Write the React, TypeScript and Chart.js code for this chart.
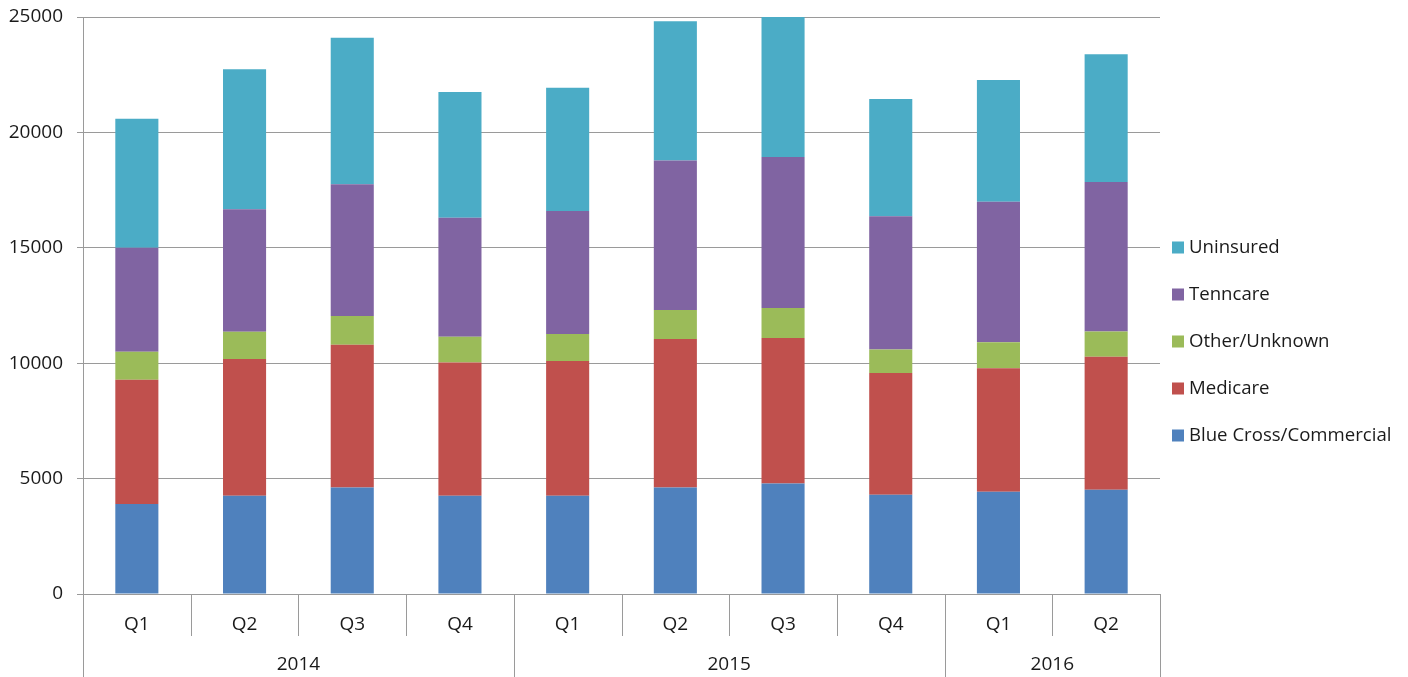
import { useEffect, useRef } from "react";
import { Chart, registerables } from "chart.js";

Chart.register(...registerables);

const quarters = ["Q1", "Q2", "Q3", "Q4", "Q1", "Q2", "Q3", "Q4", "Q1", "Q2"];
const years = ["2014", "2015", "2016"];
const yearSpans = [4, 4, 2];

const blueCross = [3900, 4255, 4615, 4255, 4255, 4615, 4790, 4300, 4430, 4515];
const medicare = [5380, 5930, 6180, 5770, 5845, 6435, 6305, 5270, 5355, 5760];
const otherUnknown = [1220, 1180, 1255, 1125, 1170, 1255, 1300, 1020, 1125, 1095];
const tenncare = [4500, 5300, 5700, 5150, 5325, 6480, 6535, 5775, 6085, 6480];
const uninsured = [5590, 6070, 6350, 5455, 5340, 6030, 6070, 5080, 5270, 5540];

const yTicks = [0, 5000, 10000, 15000, 20000, 25000];

const FONT = "'Open Sans', 'DejaVu Sans', sans-serif";
const TEXT = "#1a1a1a";
const GRID = "#9a9a9a";

const groupAxisPlugin = {
  id: "groupAxis",
  afterDraw(chart: any) {
    const xs = chart.scales.x;
    const ctx = chart.ctx;
    const n = quarters.length;
    const boundary = (i: number) =>
      i === 0 ? xs.left : i === n ? xs.right : (xs.getPixelForValue(i - 1) + xs.getPixelForValue(i)) / 2;
    const yearBounds = [0];
    yearSpans.forEach((s) => yearBounds.push(yearBounds[yearBounds.length - 1] + s));
    ctx.save();
    ctx.strokeStyle = GRID;
    ctx.lineWidth = 1;
    for (let i = 0; i <= n; i++) {
      const x = Math.round(boundary(i)) + 0.5;
      const isYear = yearBounds.includes(i);
      ctx.beginPath();
      ctx.moveTo(x, xs.top);
      ctx.lineTo(x, isYear ? chart.height : xs.top + 42);
      ctx.stroke();
    }
    ctx.fillStyle = TEXT;
    ctx.font = `19px ${FONT}`;
    ctx.textAlign = "center";
    ctx.textBaseline = "middle";
    years.forEach((yr, k) => {
      const cx = (boundary(yearBounds[k]) + boundary(yearBounds[k + 1])) / 2;
      ctx.fillText(yr, cx, xs.top + 71);
    });
    // legend
    const items = chart.data.datasets.map((d: any) => ({ label: d.label, color: d.backgroundColor })).reverse();
    const x0 = chart.chartArea.right + 12;
    const cy = chart.height / 2 + 3;
    ctx.font = `18.6px ${FONT}`;
    ctx.textAlign = "left";
    items.forEach((it: any, i: number) => {
      const y = cy + (i - (items.length - 1) / 2) * 47;
      ctx.fillStyle = it.color;
      ctx.fillRect(x0, y - 6, 12, 12);
      ctx.fillStyle = TEXT;
      ctx.fillText(it.label, x0 + 17, y);
    });
    ctx.restore();
  },
};

export default function App() {
  const ref = useRef<HTMLCanvasElement | null>(null);
  useEffect(() => {
    if (!ref.current) return;
    const mk = (label: string, data: number[], color: string) => ({
      label,
      data,
      backgroundColor: color,
      borderWidth: 0,
      barPercentage: 0.4,
      categoryPercentage: 1.0,
    });
    const chart = new Chart(ref.current, {
      type: "bar",
      data: {
        labels: quarters,
        datasets: [
          mk("Blue Cross/Commercial", blueCross, "#4F81BD"),
          mk("Medicare", medicare, "#C0504D"),
          mk("Other/Unknown", otherUnknown, "#9BBB59"),
          mk("Tenncare", tenncare, "#8064A2"),
          mk("Uninsured", uninsured, "#4BACC6"),
        ],
      },
      options: {
        animation: false,
        responsive: true,
        maintainAspectRatio: false,
        layout: { padding: { top: 17, right: 248, left: 0, bottom: 0 } },
        plugins: { legend: { display: false }, tooltip: { enabled: false } },
        scales: {
          x: {
            stacked: true,
            grid: { display: false, drawTicks: false },
            border: { display: true, color: GRID },
            ticks: { font: { family: FONT, size: 19 }, color: TEXT, padding: 19, maxRotation: 0 },
            afterFit: (s: any) => {
              s.height = 83;
              s.paddingLeft = 0;
              s.paddingRight = 0;
            },
          },
          y: {
            stacked: true,
            min: 0,
            max: 25000,
            afterBuildTicks: (s: any) => {
              s.ticks = yTicks.map((v) => ({ value: v }));
            },
            ticks: {
              font: { family: FONT, size: 19 },
              color: TEXT,
              padding: 14,
              callback: (v: any) => String(v),
            },
            grid: { color: GRID, tickLength: 6 },
            border: { display: true, color: GRID },
            afterFit: (s: any) => {
              s.width = 83;
              s.paddingTop = 0;
              s.paddingBottom = 0;
            },
          },
        },
      },
      plugins: [groupAxisPlugin],
    });
    return () => chart.destroy();
  }, []);
  return (
    <div style={{ position: "fixed", left: 0, top: 0, width: 1408, height: 677, background: "#fff" }}>
      <canvas ref={ref} />
    </div>
  );
}
